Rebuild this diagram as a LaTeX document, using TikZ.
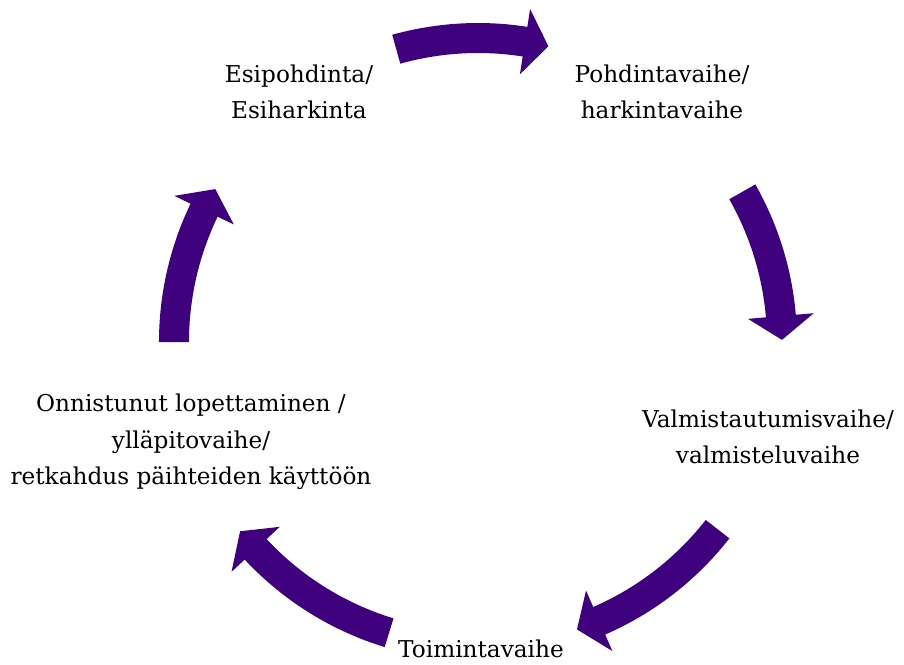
\documentclass[tikz,border=0pt]{standalone}
\usepackage{fontspec}
\setmainfont{DejaVu Serif}
\usepackage{xcolor}
\usetikzlibrary{positioning}

\definecolor{cyclepurple}{RGB}{62,0,125}

\tikzset{
  stagearrow/.style={fill=cyclepurple},
  stage/.style={align=center, font=\fontsize{13.2}{20.7}\selectfont, inner sep=0pt}
}

% curved arrow on the ring: tail angle, tip angle
\newcommand{\cyclearrow}[2]{%
  \fill[stagearrow] (#1:319) arc[start angle=#1, end angle={#2+4.5}, radius=319]
    -- ({#2+4.5}:337) -- (#2:304) -- ({#2+4.5}:271) -- ({#2+4.5}:289)
    arc[start angle={#2+4.5}, end angle=#1, radius=289] -- cycle;}

\begin{document}
\begin{tikzpicture}[x=0.02cm, y=0.02cm]

\useasboundingbox (-478,-322) rectangle (426,342);

\coordinate (c) at (0,0);

\node[stage] (esi) at (-179,250) {Esipohdinta/\\Esiharkinta};
\node[stage] (pohd) at (184,250) {Pohdintavaihe/\\harkintavaihe};
\node[stage] (valm) at (290,-95) {Valmistautumisvaihe/\\valmisteluvaihe};
\node[stage] (toim) at (3,-307) {Toimintavaihe};
\node[stage] (onni) at (-287,-100) {Onnistunut lopettaminen /\\ylläpitovaihe/\\retkahdus päihteiden käyttöön};

\cyclearrow{105.6}{76.6}
\cyclearrow{29.6}{0.4}
\cyclearrow{-38}{-71}
\cyclearrow{-107}{-141.5}
\cyclearrow{180}{149.8}

\end{tikzpicture}
\end{document}
